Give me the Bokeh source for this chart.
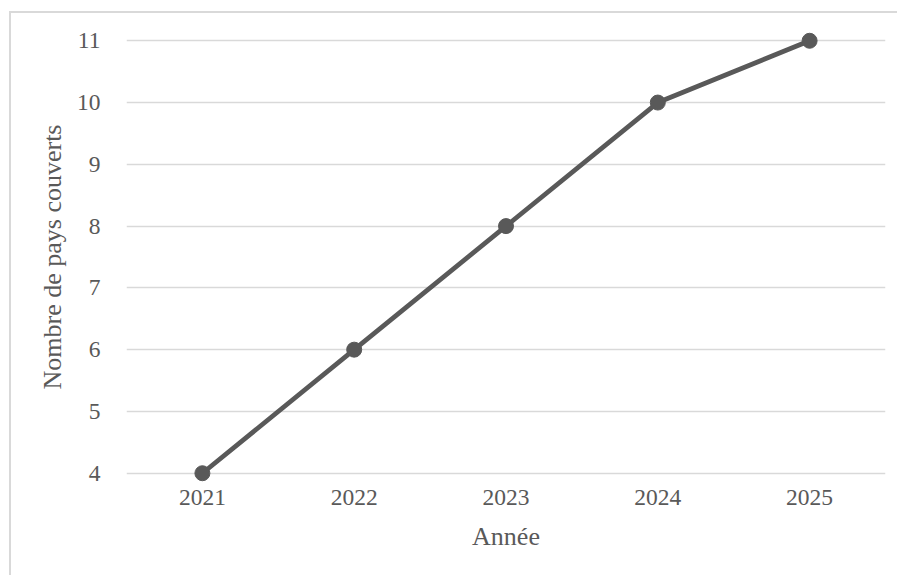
from bokeh.plotting import figure
from bokeh.models import Range1d, FactorRange, SingleIntervalTicker, Title
from bokeh.embed import file_html
from bokeh.resources import INLINE

years = ["2021", "2022", "2023", "2024", "2025"]
pays = [4, 6, 8, 10, 11]
y_title = "Nombre de pays couverts"
x_title = "Année"

FONT = "Liberation Serif"
TXT = "#595959"
GRID = "#d9d9d9"

p = figure(width=888, height=564, x_range=FactorRange(*years, range_padding=0),
           y_range=Range1d(3.85, 11.15), output_backend="svg", toolbar_location=None,
           min_border_left=115, min_border_right=14, min_border_top=18, min_border_bottom=95)
p.styles = {"border-left": "2px solid #d9d9d9", "border-top": "2px solid #d9d9d9",
            "margin-left": "9px", "margin-top": "11px"}
p.outline_line_color = None
p.background_fill_color = "white"
p.border_fill_color = "white"

p.line(years, pays, line_color="#595959", line_width=4.75)
p.scatter(years, pays, size=15, fill_color="#595959", line_color="#595959")

p.yaxis.ticker = SingleIntervalTicker(interval=1)
p.xgrid.grid_line_color = None
p.ygrid.grid_line_color = GRID
p.ygrid.grid_line_width = 1.5

for ax in (p.xaxis[0], p.yaxis[0]):
    ax.axis_line_color = None
    ax.major_tick_line_color = None
    ax.minor_tick_line_color = None
    ax.major_tick_in = 0
    ax.major_tick_out = 0
    ax.major_label_text_font = FONT
    ax.major_label_text_font_size = "23.5px"
    ax.major_label_text_color = TXT
    ax.axis_label_text_font = FONT
    ax.axis_label_text_font_size = "26px"
    ax.axis_label_text_color = TXT
    ax.axis_label_text_font_style = "normal"

p.yaxis.major_label_standoff = 22
p.xaxis.axis_label = x_title
p.xaxis.major_label_standoff = 7
p.xaxis.axis_label_standoff = 14

yt = Title(text=y_title, align="center", offset=8, standoff=14,
           text_font=FONT, text_font_size="26px", text_color=TXT,
           text_font_style="normal")
p.add_layout(yt, "left")

open("out.html", "w").write(file_html(p, INLINE))
